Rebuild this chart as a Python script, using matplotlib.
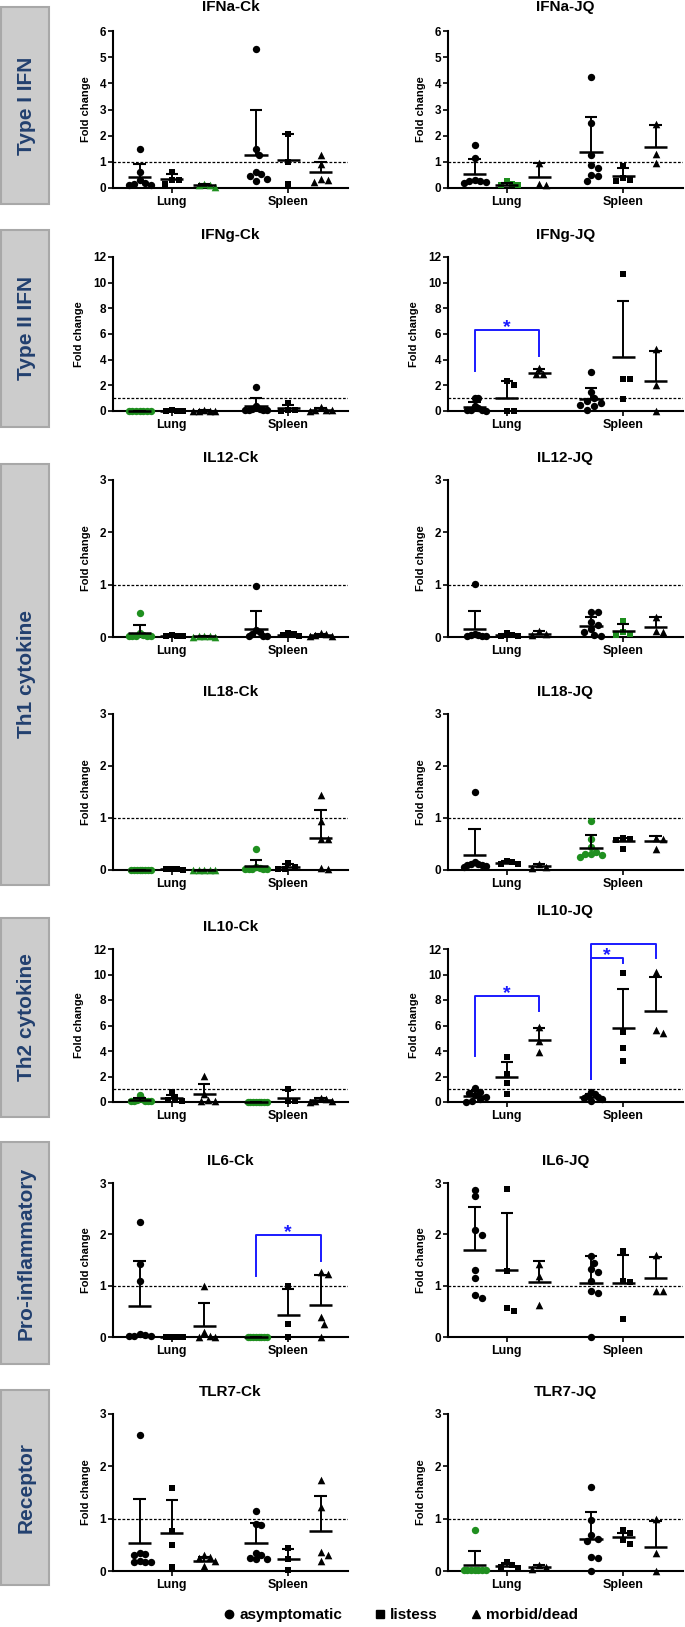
import numpy as np
import matplotlib
matplotlib.use('Agg')
import matplotlib.pyplot as plt
from matplotlib.lines import Line2D
from matplotlib.patches import Rectangle

# ---- data (fold change per animal, group mean and mean+SD) ----
# group order: Lung asym, Lung listless, Lung morbid, Spleen asym, Spleen listless, Spleen morbid
ifna_ck = [[1.5, 0.6, 0.3, 0.2, 0.12, 0.1, 0.15], [0.63, 0.32, 0.3, 0.17], [0.15, 0.1, 0.05, 0.1],
           [5.33, 1.5, 1.27, 0.6, 0.52, 0.45, 0.35, 0.25], [2.05, 1.0, 0.15], [1.25, 0.9, 0.35, 0.3, 0.22]]
ifna_ck_mean = [0.42, 0.36, 0.1, 1.27, 1.07, 0.6]
ifna_ck_up = [0.92, 0.55, 0.15, 2.98, 2.07, 1.0]

ifna_jq = [[1.65, 1.15, 0.3, 0.25, 0.22, 0.2, 0.25], [0.25, 0.15, 0.1, 0.12], [0.97, 0.15, 0.12],
           [4.25, 2.5, 1.27, 0.87, 0.78, 0.48, 0.45, 0.25], [0.85, 0.4, 0.3, 0.28], [2.45, 1.3, 0.95]]
ifna_jq_mean = [0.55, 0.12, 0.42, 1.36, 0.45, 1.57]
ifna_jq_up = [1.12, 0.2, 0.96, 2.73, 0.75, 2.42]

ifng_ck = [[0.02, 0.02, 0.01, 0.02, 0.01, 0.02, 0.02], [0.05, 0.02, 0.0, 0.03], [0.05, 0.02, 0.0, 0.03, 0.01],
           [1.85, 0.4, 0.15, 0.1, 0.05, 0.05, 0.1, 0.12], [0.62, 0.1, 0.05, 0.03], [0.3, 0.1, 0.05, 0.05, 0.02]]
ifng_ck_mean = [0.02, 0.03, 0.03, 0.37, 0.2, 0.1]
ifng_ck_up = [0.03, 0.05, 0.05, 1.0, 0.5, 0.25]

ifng_jq = [[1.0, 1.0, 0.4, 0.2, 0.1, 0.05, 0.0, 0.05], [2.35, 2.0, 0.0, 0.0], [3.35, 2.9, 2.85],
           [3.0, 1.5, 1.0, 0.8, 0.6, 0.5, 0.4, 0.1], [10.7, 2.5, 2.5, 0.97], [4.8, 2.0, 0.0]]
ifng_jq_mean = [0.33, 1.05, 2.97, 0.96, 4.23, 2.3]
ifng_jq_up = [0.7, 2.35, 3.27, 1.83, 8.6, 4.7]

il12_ck = [[0.45, 0.08, 0.03, 0.02, 0.02, 0.01, 0.02, 0.01], [0.03, 0.02, 0.01, 0.02], [0.01, 0.01, 0.0, 0.01, 0.0],
           [0.98, 0.13, 0.1, 0.05, 0.02, 0.02, 0.02], [0.07, 0.05, 0.03, 0.02], [0.08, 0.05, 0.03, 0.02, 0.01]]
il12_ck_mean = [0.08, 0.02, 0.01, 0.16, 0.04, 0.03]
il12_ck_up = [0.22, 0.03, 0.01, 0.5, 0.06, 0.06]

il12_jq = [[1.02, 0.05, 0.03, 0.02, 0.02, 0.03, 0.02], [0.07, 0.04, 0.02, 0.02], [0.12, 0.05, 0.03],
           [0.48, 0.47, 0.28, 0.22, 0.15, 0.1, 0.03, 0.02], [0.3, 0.1, 0.05, 0.03], [0.38, 0.12, 0.1]]
il12_jq_mean = [0.15, 0.03, 0.06, 0.21, 0.12, 0.2]
il12_jq_up = [0.5, 0.06, 0.12, 0.38, 0.24, 0.38]

il18_ck = [[0, 0, 0, 0, 0, 0, 0, 0], [0.02, 0.01, 0.0, 0.01], [0, 0, 0, 0, 0],
           [0.4, 0.05, 0.03, 0.02, 0.01, 0.02, 0.01, 0.01], [0.13, 0.05, 0.02, 0.02], [1.45, 0.95, 0.6, 0.6, 0.02, 0.03]]
il18_ck_mean = [0.0, 0.01, 0.0, 0.07, 0.05, 0.61]
il18_ck_up = [0.0, 0.02, 0.0, 0.19, 0.12, 1.16]

il18_jq = [[1.5, 0.15, 0.12, 0.1, 0.08, 0.1, 0.06, 0.12], [0.18, 0.15, 0.12, 0.12], [0.12, 0.05, 0.03],
           [0.95, 0.6, 0.45, 0.35, 0.3, 0.28, 0.25, 0.3], [0.62, 0.6, 0.58, 0.4], [0.62, 0.6, 0.4]]
il18_jq_mean = [0.28, 0.14, 0.07, 0.42, 0.55, 0.55]
il18_jq_up = [0.78, 0.17, 0.12, 0.67, 0.62, 0.65]

il10_ck = [[0.55, 0.25, 0.15, 0.1, 0.05, 0.08, 0.05, 0.1], [0.8, 0.3, 0.12, 0.05], [2.05, 0.6, 0.15, 0.1, 0.1],
           [0.02, 0.02, 0.01, 0.02, 0.02, 0.01, 0.02, 0.02], [1.0, 0.1, 0.05], [0.35, 0.2, 0.1, 0.05, 0.02]]
il10_ck_mean = [0.15, 0.3, 0.6, 0.02, 0.35, 0.15]
il10_ck_up = [0.3, 0.55, 1.44, 0.03, 0.95, 0.3]

il10_jq = [[1.1, 0.8, 0.7, 0.55, 0.4, 0.25, 0.05, 0.02], [3.5, 2.2, 1.5, 0.65], [5.9, 4.8, 3.9],
           [0.75, 0.6, 0.5, 0.4, 0.3, 0.25, 0.1], [10.1, 5.5, 4.2, 3.2], [10.2, 5.44, 5.68]]
il10_jq_mean = [0.5, 1.93, 4.88, 0.4, 5.8, 7.1]
il10_jq_up = [0.85, 3.1, 5.84, 0.6, 8.85, 9.8]

il6_ck = [[2.25, 1.42, 1.1, 0.05, 0.03, 0.02, 0.02, 0.02], [0, 0, 0, 0], [1.0, 0.1, 0.02, 0.0, 0.0],
          [0, 0, 0, 0, 0, 0, 0, 0], [1.0, 0.26, 0.0], [1.27, 1.22, 0.38, 0.26, 0.0]]
il6_ck_mean = [0.6, 0.0, 0.22, 0.0, 0.42, 0.63]
il6_ck_up = [1.49, 0.0, 0.66, 0.0, 0.94, 1.2]

il6_jq = [[2.87, 2.74, 2.09, 1.98, 1.3, 1.15, 0.81, 0.76], [2.88, 1.29, 0.57, 0.5], [1.42, 1.18, 0.63],
          [1.57, 1.45, 1.32, 1.26, 1.1, 0.9, 0.86, 0.0], [1.68, 1.1, 1.07, 0.36], [1.6, 0.9, 0.9]]
il6_jq_mean = [1.7, 1.31, 1.08, 1.06, 1.05, 1.14]
il6_jq_up = [2.54, 2.41, 1.48, 1.57, 1.6, 1.55]

tlr7_ck = [[2.6, 0.35, 0.33, 0.3, 0.2, 0.18, 0.17, 0.17], [1.58, 0.76, 0.49, 0.08], [0.3, 0.27, 0.24, 0.2, 0.1],
           [1.15, 0.9, 0.88, 0.35, 0.3, 0.25, 0.22, 0.22], [0.43, 0.22, 0.02], [1.73, 1.22, 0.37, 0.3, 0.19]]
tlr7_ck_mean = [0.54, 0.73, 0.2, 0.54, 0.22, 0.76]
tlr7_ck_up = [1.38, 1.36, 0.27, 0.92, 0.42, 1.44]

tlr7_jq = [[0.79, 0.02, 0.01, 0.01, 0.01, 0.01, 0.01, 0.01], [0.17, 0.12, 0.07, 0.05], [0.12, 0.07, 0.03],
           [1.6, 0.97, 0.69, 0.62, 0.57, 0.27, 0.25, 0.0], [0.78, 0.72, 0.6, 0.52], [1.0, 0.35, 0.0]]
tlr7_jq_mean = [0.11, 0.1, 0.07, 0.62, 0.65, 0.45]
tlr7_jq_up = [0.38, 0.15, 0.12, 1.12, 0.72, 0.96]

titles = ['IFNa-Ck', 'IFNa-JQ', 'IFNg-Ck', 'IFNg-JQ', 'IL12-Ck', 'IL12-JQ', 'IL18-Ck', 'IL18-JQ',
          'IL10-Ck', 'IL10-JQ', 'IL6-Ck', 'IL6-JQ', 'TLR7-Ck', 'TLR7-JQ']
ymax = [6, 6, 12, 12, 3, 3, 3, 3, 12, 12, 3, 3, 3, 3]
ystep = [1, 1, 2, 2, 1, 1, 1, 1, 2, 2, 1, 1, 1, 1]
green_groups = [[2], [1], [0], [], [0, 2], [4], [0, 2, 3], [3], [0, 3], [], [3], [], [], [0]]
organs = ['Lung', 'Spleen']
status = ['asymptomatic', 'listess', 'morbid/dead']

# significance brackets
br_panel = ['IFNg-JQ', 'IL10-JQ', 'IL10-JQ', 'IL10-JQ', 'IL6-Ck']
br_from = [0, 0, 3, 3, 3]
br_to = [2, 2, 4, 5, 5]
br_low_l = [3.1, 3.6, 1.77, 1.77, 1.19]
br_top = [6.3, 8.34, 11.26, 12.36, 1.99]
br_low_r = [4.3, 7.13, 10.9, 11.26, 1.48]

sections = ['Type I IFN', 'Type II IFN', 'Th1 cytokine', 'Th2 cytokine', 'Pro-inflammatory', 'Receptor']

pts_all = [ifna_ck, ifna_jq, ifng_ck, ifng_jq, il12_ck, il12_jq, il18_ck, il18_jq,
           il10_ck, il10_jq, il6_ck, il6_jq, tlr7_ck, tlr7_jq]
mean_all = [ifna_ck_mean, ifna_jq_mean, ifng_ck_mean, ifng_jq_mean, il12_ck_mean, il12_jq_mean,
            il18_ck_mean, il18_jq_mean, il10_ck_mean, il10_jq_mean, il6_ck_mean, il6_jq_mean,
            tlr7_ck_mean, tlr7_jq_mean]
up_all = [ifna_ck_up, ifna_jq_up, ifng_ck_up, ifng_jq_up, il12_ck_up, il12_jq_up, il18_ck_up,
          il18_jq_up, il10_ck_up, il10_jq_up, il6_ck_up, il6_jq_up, tlr7_ck_up, tlr7_jq_up]

# ---- layout ----
W, H = 685, 1627
plt.rcParams['font.family'] = ['Liberation Sans', 'DejaVu Sans']
plt.rcParams['font.weight'] = 'bold'

row_top = [31, 257, 480, 714, 949, 1183, 1414]
row_zero = [188, 411, 637, 870, 1102, 1337, 1571]
col_x = [(113, 348), (448, 683)]
title_off = [17, 17, 16, 16, 16, 16, 16, 16, 16, 27, 16, 16, 16, 16]
box_y = [(7, 204), (230, 427), (464, 885), (918, 1117), (1142, 1364), (1390, 1585)]

gx = [0, 1, 2, 3.6, 4.6, 5.6]
xlim = (-0.82, 6.45)
markers = ['o', 's', '^']
msize = [28, 24, 30]
GREEN = '#1f8f1f'
BLUE = '#1a1aff'


def swarm(vals, ppu_y, ppu_x, d=7.0, lim=11.0):
    vals = np.asarray(vals, float)
    order = np.argsort(-vals, kind='stable')
    cands = [0.0]
    for k in range(1, 30):
        cands += [k * d / 2, -k * d / 2]
    placed = []
    offs = np.zeros(len(vals))
    for i in order:
        y = vals[i] * ppu_y
        for c in cands:
            if all(np.hypot(c - px, y - py) >= d * 0.95 for px, py in placed):
                break
        placed.append((c, y))
        offs[i] = c
    m = np.abs(offs).max()
    if m > lim:
        offs *= lim / m
    return offs / ppu_x


fig = plt.figure(figsize=(W / 100, H / 100), dpi=100)

# section label boxes
for name, (y0, y1) in zip(sections, box_y):
    fig.add_artist(Rectangle((1 / W, 1 - y1 / H), 48 / W, (y1 - y0) / H, transform=fig.transFigure,
                             facecolor='#cccccc', edgecolor='#a8a8a8', lw=1.5))
    fig.text(26 / W, 1 - (y0 + y1) / 2 / H, name, rotation=90, ha='center', va='center',
             fontsize=15, color='#22406f', weight='bold')

axes = {}
for p, title in enumerate(titles):
    r, c = divmod(p, 2)
    x0, x1 = col_x[c]
    yt, yz = row_top[r], row_zero[r]
    ax = fig.add_axes([x0 / W, 1 - yz / H, (x1 - x0) / W, (yz - yt) / H])
    axes[title] = ax
    ppu_y = (yz - yt) / ymax[p]
    ppu_x = (x1 - x0) / (xlim[1] - xlim[0])

    ax.axhline(1, ls=(0, (2.2, 1.4)), lw=0.9, color='black', zorder=1)
    for g in range(6):
        vals = pts_all[p][g]
        off = swarm(vals, ppu_y, ppu_x)
        col = GREEN if g in green_groups[p] else 'black'
        ax.scatter(gx[g] + off, vals, marker=markers[g % 3], s=msize[g % 3], color=col,
                   linewidths=0, zorder=3, clip_on=False)
        m, u = mean_all[p][g], up_all[p][g]
        ax.plot([gx[g] - 0.36, gx[g] + 0.36], [m, m], color='black', lw=1.8, zorder=4,
                solid_capstyle='butt', clip_on=False)
        ax.plot([gx[g], gx[g]], [m, u], color='black', lw=1.4, zorder=4, clip_on=False)
        ax.plot([gx[g] - 0.19, gx[g] + 0.19], [u, u], color='black', lw=1.5, zorder=4,
                solid_capstyle='butt', clip_on=False)

    ax.set_xlim(*xlim)
    ax.set_ylim(0, ymax[p])
    ax.set_yticks(np.arange(0, ymax[p] + 0.01, ystep[p]))
    ax.set_xticks([gx[1], gx[4]])
    ax.set_xticklabels(organs)
    for s in ['top', 'right']:
        ax.spines[s].set_visible(False)
    for s in ['left', 'bottom']:
        ax.spines[s].set_linewidth(1.5)
    ax.tick_params(axis='y', length=3.5, width=1.2, labelsize=8.5, pad=1.5)
    ax.tick_params(axis='x', length=3.5, width=1.2, labelsize=9, pad=2)
    ax.set_ylabel('Fold change', fontsize=8, weight='bold', labelpad=6)
    ax.annotate(title, xy=(0.5, 1), xycoords='axes fraction', xytext=(0, title_off[p]),
                textcoords='offset points', ha='center', va='center', fontsize=11, weight='bold')

# significance brackets
for name, a, b, yl, yt, yr in zip(br_panel, br_from, br_to, br_low_l, br_top, br_low_r):
    ax = axes[name]
    ax.plot([gx[a], gx[a], gx[b], gx[b]], [yl, yt, yt, yr], color=BLUE, lw=1.4, zorder=5,
            clip_on=False)
    ax.annotate('*', xy=((gx[a] + gx[b]) / 2, yt), xytext=(0, -1.5), textcoords='offset points',
                ha='center', va='baseline', fontsize=14, color=BLUE, weight='bold')

handles = [Line2D([], [], marker=mk, ls='', color='black', markersize=ms)
           for mk, ms in zip(markers, [6, 5.5, 6])]
fig.legend(handles, status, loc='center', bbox_to_anchor=(400 / W, 1 - 1615 / H), ncol=3,
           frameon=False, fontsize=11, handletextpad=0.15, columnspacing=2.0, handlelength=1.0)

fig.savefig('out.png', dpi=100)
